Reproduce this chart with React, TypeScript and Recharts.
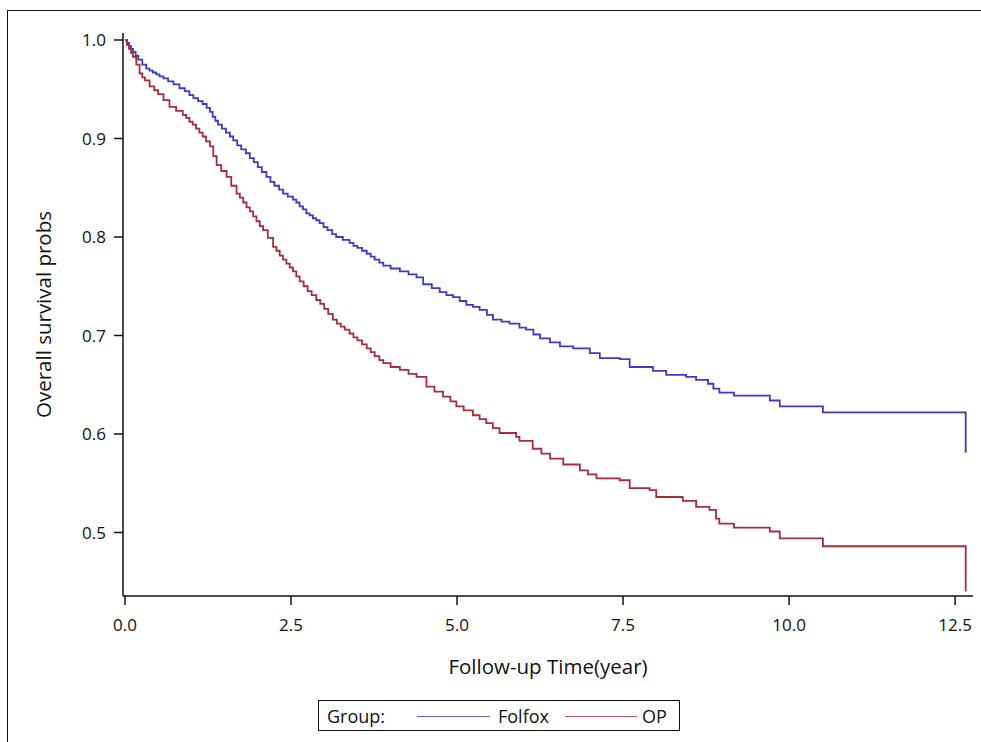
import React from 'react';
import { LineChart, Line, XAxis, YAxis, Label } from 'recharts';

// Kaplan-Meier readings (year, survival prob) per group
const folfoxTime = [0, 0.03, 0.06, 0.09, 0.12, 0.16, 0.2, 0.26, 0.32, 0.37, 0.42, 0.47, 0.52, 0.58, 0.65, 0.73, 0.82, 0.9, 0.97, 1.03, 1.1, 1.17, 1.23, 1.28, 1.32, 1.36, 1.4, 1.46, 1.52, 1.58, 1.63, 1.69, 1.75, 1.82, 1.88, 1.94, 2.0, 2.06, 2.13, 2.19, 2.25, 2.32, 2.38, 2.45, 2.53, 2.58, 2.63, 2.68, 2.73, 2.78, 2.83, 2.88, 2.93, 2.99, 3.05, 3.12, 3.18, 3.28, 3.38, 3.44, 3.5, 3.57, 3.64, 3.7, 3.76, 3.83, 3.89, 4.0, 4.14, 4.27, 4.39, 4.49, 4.62, 4.74, 4.84, 4.94, 5.04, 5.14, 5.24, 5.34, 5.45, 5.54, 5.67, 5.79, 5.94, 6.04, 6.15, 6.25, 6.4, 6.55, 6.75, 7.0, 7.15, 7.45, 7.6, 7.95, 8.15, 8.45, 8.6, 8.78, 8.86, 8.95, 9.17, 9.71, 9.86, 10.51, 12.66];
const folfoxSurv = [1.0, 0.997, 0.994, 0.991, 0.988, 0.984, 0.98, 0.975, 0.971, 0.969, 0.967, 0.965, 0.963, 0.961, 0.958, 0.955, 0.951, 0.948, 0.944, 0.941, 0.938, 0.935, 0.931, 0.927, 0.922, 0.918, 0.914, 0.91, 0.906, 0.902, 0.898, 0.893, 0.889, 0.885, 0.88, 0.876, 0.871, 0.866, 0.861, 0.856, 0.852, 0.848, 0.844, 0.841, 0.838, 0.835, 0.831, 0.828, 0.824, 0.822, 0.819, 0.817, 0.814, 0.81, 0.807, 0.803, 0.8, 0.797, 0.794, 0.791, 0.789, 0.786, 0.783, 0.78, 0.777, 0.774, 0.771, 0.768, 0.765, 0.762, 0.759, 0.752, 0.748, 0.744, 0.741, 0.739, 0.735, 0.731, 0.729, 0.726, 0.721, 0.716, 0.714, 0.712, 0.708, 0.706, 0.701, 0.697, 0.693, 0.689, 0.687, 0.682, 0.677, 0.676, 0.668, 0.664, 0.66, 0.658, 0.655, 0.651, 0.646, 0.642, 0.639, 0.634, 0.628, 0.622, 0.581];

const opTime = [0, 0.03, 0.06, 0.09, 0.12, 0.17, 0.22, 0.26, 0.3, 0.37, 0.44, 0.5, 0.58, 0.67, 0.77, 0.87, 0.92, 0.97, 1.02, 1.07, 1.12, 1.17, 1.22, 1.28, 1.33, 1.38, 1.45, 1.53, 1.6, 1.68, 1.73, 1.78, 1.83, 1.88, 1.93, 1.98, 2.03, 2.08, 2.15, 2.23, 2.28, 2.33, 2.38, 2.43, 2.48, 2.53, 2.58, 2.63, 2.69, 2.75, 2.81, 2.88, 2.94, 3.0, 3.06, 3.13, 3.19, 3.25, 3.31, 3.38, 3.44, 3.5, 3.57, 3.64, 3.7, 3.76, 3.83, 3.89, 4.0, 4.14, 4.27, 4.39, 4.54, 4.66, 4.79, 4.9, 4.99, 5.1, 5.24, 5.34, 5.44, 5.54, 5.64, 5.89, 5.94, 6.14, 6.27, 6.4, 6.6, 6.85, 6.97, 7.1, 7.45, 7.6, 7.9, 8.0, 8.4, 8.6, 8.8, 8.9, 8.95, 9.17, 9.71, 9.86, 10.51, 12.66];
const opSurv = [1.0, 0.995, 0.991, 0.987, 0.983, 0.975, 0.966, 0.962, 0.959, 0.953, 0.949, 0.945, 0.939, 0.932, 0.928, 0.924, 0.921, 0.917, 0.914, 0.91, 0.906, 0.902, 0.897, 0.892, 0.882, 0.873, 0.867, 0.861, 0.852, 0.844, 0.84, 0.835, 0.83, 0.826, 0.821, 0.816, 0.811, 0.807, 0.799, 0.79, 0.786, 0.781, 0.777, 0.773, 0.769, 0.765, 0.76, 0.755, 0.75, 0.745, 0.741, 0.736, 0.732, 0.727, 0.722, 0.716, 0.712, 0.709, 0.706, 0.702, 0.698, 0.695, 0.691, 0.687, 0.683, 0.679, 0.675, 0.672, 0.668, 0.665, 0.661, 0.658, 0.648, 0.643, 0.638, 0.633, 0.628, 0.624, 0.619, 0.615, 0.611, 0.606, 0.601, 0.597, 0.593, 0.585, 0.58, 0.575, 0.569, 0.563, 0.559, 0.555, 0.553, 0.545, 0.543, 0.536, 0.532, 0.526, 0.523, 0.514, 0.509, 0.505, 0.501, 0.494, 0.486, 0.44];

const xTicks = [0, 2.5, 5, 7.5, 10, 12.5];
const yTicks = [0.5, 0.6, 0.7, 0.8, 0.9, 1.0];
const groupNames = ['Folfox', 'OP'];

const FONT = '"Open Sans", "Noto Sans", sans-serif';
const BLUE = '#3b3bc6';
const RED = '#a62d3b';

const folfoxData = folfoxTime.map((t, i) => ({ t, s: folfoxSurv[i] }));
const opData = opTime.map((t, i) => ({ t, s: opSurv[i] }));

const tickStyle = { fontSize: 17, fill: '#111', fontFamily: FONT };

const legendText: React.CSSProperties = { position: 'absolute', top: '50%', transform: 'translateY(-52%)', whiteSpace: 'nowrap' };
const legendLine = (color: string, left: number, width: number): React.CSSProperties => ({
  position: 'absolute', left, width, top: 15, borderTop: `1.6px solid ${color}`, opacity: 0.8,
});

export default function App() {
  return (
    <div style={{ position: 'relative', width: 981, height: 742, overflow: 'hidden', background: '#fff' }}>
      <style>{`body{margin:0;overflow:hidden}`}</style>
      {/* outer frame, right/bottom edges fall outside the picture */}
      <div style={{ position: 'absolute', left: 7, top: 10, width: 1000, height: 800, borderTop: '1.5px solid #111', borderLeft: '1.5px solid #111' }} />
      <div style={{ position: 'absolute', left: 0, top: 0 }}>
        <LineChart width={981} height={742} margin={{ top: 33, right: 8, bottom: 116, left: 63 }}>
          <XAxis
            dataKey="t"
            type="number"
            domain={[-0.03, 12.77]}
            ticks={xTicks}
            allowDataOverflow
            tickFormatter={(v: number) => v.toFixed(1)}
            tick={tickStyle}
            tickSize={9}
            tickMargin={14}
            height={30}
            stroke="#111"
            strokeWidth={1.5}
          >
            <Label value="Follow-up Time(year)" position="bottom" offset={33} style={{ fontSize: 20.5, fill: '#111', fontFamily: FONT }} />
          </XAxis>
          <XAxis xAxisId="top" orientation="top" type="number" domain={[-0.03, 12.77]} height={0} tick={false} tickLine={false} stroke="#8a8a8a" strokeWidth={1.5} />
          <YAxis
            type="number"
            domain={[0.4355, 1.0071]}
            ticks={yTicks}
            allowDataOverflow
            tickFormatter={(v: number) => v.toFixed(1)}
            tick={tickStyle}
            tickSize={9}
            tickMargin={8}
            width={60}
            stroke="#111"
            strokeWidth={1.5}
          >
            <Label
              content={({ viewBox }: any) => {
                const cx = viewBox.x - 17;
                const cy = viewBox.y + viewBox.height / 2;
                return (
                  <text x={cx} y={cy} transform={`rotate(-90 ${cx} ${cy})`} textAnchor="middle" dominantBaseline="middle" fontSize={20.5} fill="#111" fontFamily={FONT}>
                    Overall survival probs
                  </text>
                );
              }}
            />
          </YAxis>
          <YAxis yAxisId="right" orientation="right" type="number" domain={[0.4355, 1.0071]} width={0} tick={false} tickLine={false} stroke="#8a8a8a" strokeWidth={1.5} />
          <Line data={folfoxData} dataKey="s" name={groupNames[0]} type="stepAfter" stroke={BLUE} strokeWidth={1.8} dot={false} isAnimationActive={false} />
          <Line data={opData} dataKey="s" name={groupNames[1]} type="stepAfter" stroke={RED} strokeWidth={1.8} dot={false} isAnimationActive={false} />
        </LineChart>
      </div>
      {/* legend box */}
      <div style={{ position: 'absolute', left: 318, top: 700, width: 360, height: 29, border: '1.5px solid #111', fontFamily: FONT, fontSize: 18, color: '#111' }}>
        <span style={{ ...legendText, left: 8 }}>Group:</span>
        <span style={legendLine(BLUE, 98, 73)} />
        <span style={{ ...legendText, left: 179 }}>{groupNames[0]}</span>
        <span style={legendLine(RED, 246, 72)} />
        <span style={{ ...legendText, left: 323 }}>{groupNames[1]}</span>
      </div>
    </div>
  );
}
